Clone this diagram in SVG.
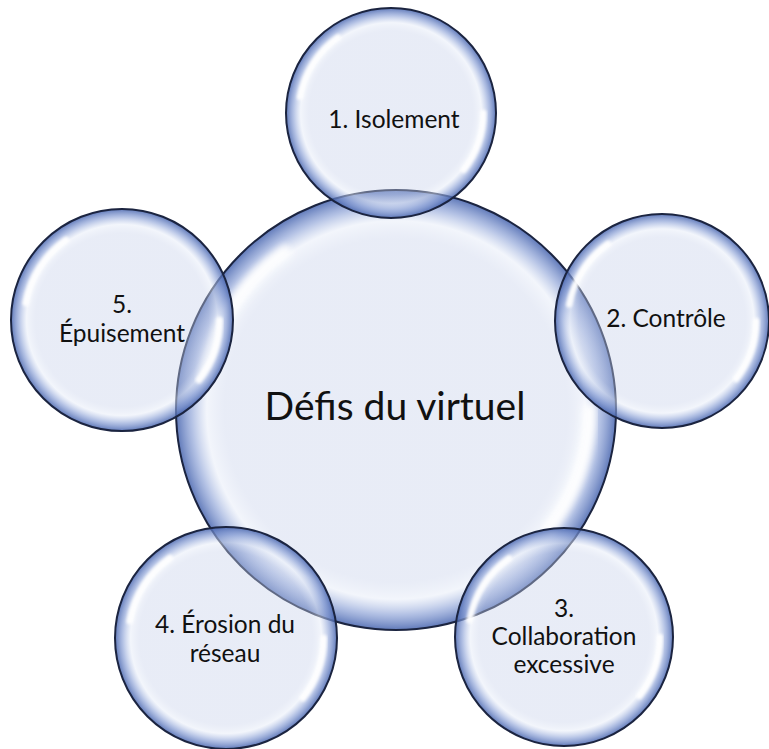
<svg xmlns="http://www.w3.org/2000/svg" xmlns:xlink="http://www.w3.org/1999/xlink" width="769" height="749" viewBox="0 0 769 749">
  <style>
    .lbl { font-family: Lato, "Open Sans", "Liberation Sans", sans-serif; fill: #111111; text-anchor: middle; }
    .sat { font-size: 24.5px; }
    .hub { font-size: 39px; }
    .rim { fill: none; stroke: #1b2440; stroke-width: 2; vector-effect: non-scaling-stroke; }
    .gloss { fill: none; stroke: #ffffff; stroke-width: 6; stroke-linecap: round; opacity: 0.95; filter: url(#soft); }
  </style>
  <defs>
    <!-- glassy bubble body: pale centre, brighter inner ring, blue rim -->
    <radialGradient id="bubbleFill" cx="0.5" cy="0.5" r="0.5">
      <stop offset="0" stop-color="#c6d0ea" stop-opacity="0.4"/>
      <stop offset="0.78" stop-color="#c6d0ea" stop-opacity="0.4"/>
      <stop offset="0.86" stop-color="#e6ecf8" stop-opacity="0.5"/>
      <stop offset="0.93" stop-color="#8aa0d6" stop-opacity="0.65"/>
      <stop offset="1" stop-color="#4462ad" stop-opacity="0.85"/>
    </radialGradient>
    <filter id="soft" x="-20%" y="-20%" width="140%" height="140%">
      <feGaussianBlur stdDeviation="1.6"/>
    </filter>
    <!-- unit bubble of radius 100, placed and scaled per node -->
    <g id="bubble">
      <circle r="100" fill="url(#bubbleFill)"/>
      <path class="gloss" d="M -86.7 -15.3 A 88 88 0 0 1 -50.5 -72.1"/>
      <path class="gloss" d="M 88 0 A 88 88 0 0 1 69.3 54.2"/>
      <circle class="rim" r="100"/>
    </g>
  </defs>

  <g id="hub">
    <use xlink:href="#bubble" transform="translate(396 410) scale(2.2)"/>
    <text class="lbl hub" x="395" y="420">Défis du virtuel</text>
  </g>

  <g id="node-1">
    <use xlink:href="#bubble" transform="translate(391 113) scale(1.05)"/>
    <text class="lbl sat" x="394" y="128">1. Isolement</text>
  </g>

  <g id="node-2">
    <use xlink:href="#bubble" transform="translate(662 321) scale(1.07)"/>
    <text class="lbl sat" x="666" y="327">2. Contrôle</text>
  </g>

  <g id="node-3">
    <use xlink:href="#bubble" transform="translate(564 637) scale(1.09)"/>
    <text class="lbl sat" x="564" y="617">3.</text>
    <text class="lbl sat" x="564" y="645">Collaboration</text>
    <text class="lbl sat" x="564" y="673">excessive</text>
  </g>

  <g id="node-4">
    <use xlink:href="#bubble" transform="translate(226 638) scale(1.11)"/>
    <text class="lbl sat" x="225" y="633">4. Érosion du</text>
    <text class="lbl sat" x="225" y="662">réseau</text>
  </g>

  <g id="node-5">
    <use xlink:href="#bubble" transform="translate(122 320) scale(1.11)"/>
    <text class="lbl sat" x="122" y="313">5.</text>
    <text class="lbl sat" x="122" y="342">Épuisement</text>
  </g>
</svg>
